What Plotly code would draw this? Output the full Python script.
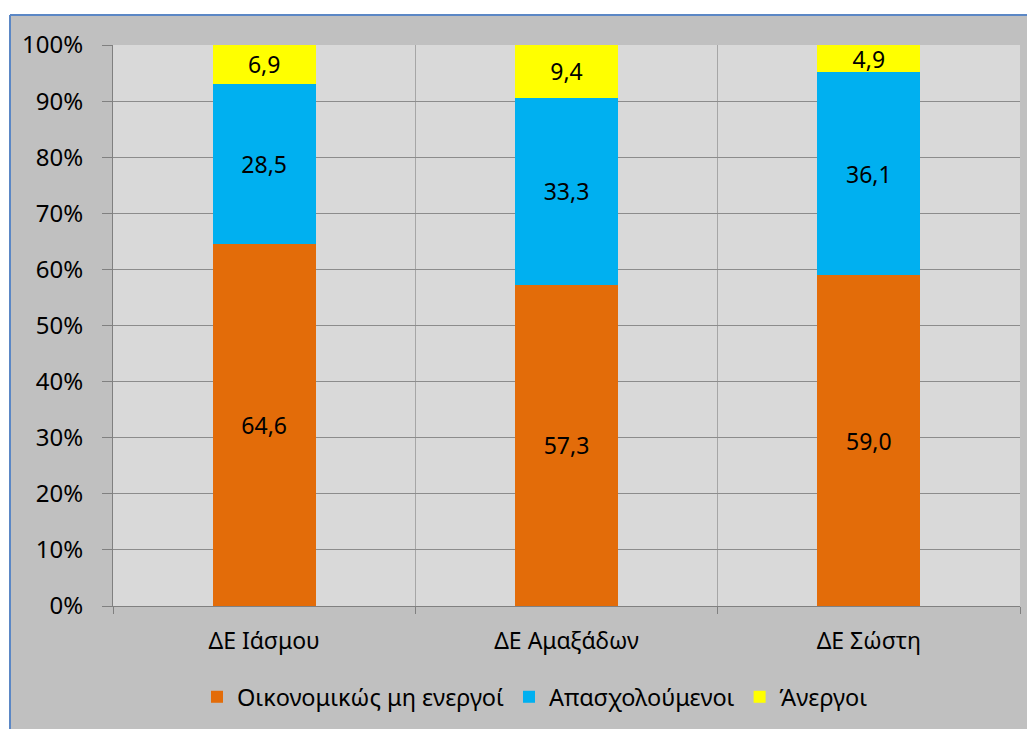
import plotly.graph_objects as go

categories = ["ΔΕ Ιάσμου", "ΔΕ Αμαξάδων", "ΔΕ Σώστη"]
inactive = [64.6, 57.3, 59.0]
employed = [28.5, 33.3, 36.1]
unemployed = [6.9, 9.4, 4.9]
series_names = ["Οικονομικώς μη ενεργοί", "Απασχολούμενοι", "Άνεργοι"]
colors = ["#E36C09", "#00B0F0", "#FFFF00"]
y_ticks = [0, 10, 20, 30, 40, 50, 60, 70, 80, 90, 100]

OFF = 8  # page body margin
W, H = 1035 - OFF, 729 - OFF
L, R, T, B = 113 - OFF, 1020 - OFF, 45 - OFF, 606 - OFF
FONT = "Noto Sans"

xpos = list(range(len(categories)))
fig = go.Figure()
for name, vals, col in zip(series_names, [inactive, employed, unemployed], colors):
    fig.add_trace(go.Bar(
        x=xpos, y=vals, name=name, marker=dict(color=col, line=dict(width=0)),
        text=vals, texttemplate="%{y:.1f}", textposition="inside",
        insidetextanchor="middle", constraintext="none",
        textfont=dict(color="black", size=23, family=FONT),
        hoverinfo="skip",
    ))

def px_x(p):
    return (p - OFF - L) / (R - L)

def px_y(p):
    return (B - (p - OFF)) / (B - T)

# white strips outside the chart frame, and the blue frame lines
fig.add_shape(type="rect", xref="paper", yref="paper",
              x0=px_x(0), x1=px_x(1040), y0=px_y(15), y1=px_y(0),
              fillcolor="white", line=dict(width=0), layer="above")
fig.add_shape(type="rect", xref="paper", yref="paper",
              x0=px_x(0), x1=px_x(10), y0=px_y(740), y1=px_y(0),
              fillcolor="white", line=dict(width=0), layer="above")
fig.add_shape(type="line", xref="paper", yref="paper",
              x0=px_x(10), x1=px_x(1040), y0=px_y(15), y1=px_y(15),
              line=dict(color="#5B87C5", width=2), layer="above")
fig.add_shape(type="line", xref="paper", yref="paper",
              x0=px_x(10), x1=px_x(10), y0=px_y(740), y1=px_y(15),
              line=dict(color="#5B87C5", width=2), layer="above")

fig.update_layout(
    width=W, height=H,
    margin=dict(l=L, r=W - R, t=T, b=H - B, autoexpand=False),
    barmode="stack", bargap=0.66,
    separators=",.",
    paper_bgcolor="#C0C0C0", plot_bgcolor="#D9D9D9",
    font=dict(family=FONT, size=23, color="black"),
    showlegend=True,
    legend=dict(orientation="h", x=px_x(535), xanchor="center", y=px_y(697), yanchor="middle",
                font=dict(size=23.5, family=FONT), itemsizing="constant",
                traceorder="normal", bgcolor="rgba(0,0,0,0)", itemwidth=30),
)
fig.update_xaxes(
    range=[-0.5, 2.5], tickmode="array", tickvals=xpos, ticktext=categories,
    ticks="", showgrid=False, zeroline=False,
    showline=True, linecolor="#808080", linewidth=1,
    tickfont=dict(size=23, family=FONT), ticklabelstandoff=14,
    minor=dict(tick0=-0.5, dtick=1, ticks="outside", ticklen=7, tickcolor="#808080",
               showgrid=True, gridcolor="#A6A6A6", gridwidth=1),
)
fig.update_yaxes(
    range=[0, 100], tickmode="array", tickvals=y_ticks,
    ticktext=[f"{v}%" for v in y_ticks],
    ticks="outside", ticklen=10, tickcolor="#808080",
    showgrid=True, gridcolor="#8C8C8C", gridwidth=1, zeroline=False,
    showline=True, linecolor="#808080", linewidth=1,
    tickfont=dict(size=24, family=FONT), ticklabelstandoff=14,
)

fig.write_html("out.html")
